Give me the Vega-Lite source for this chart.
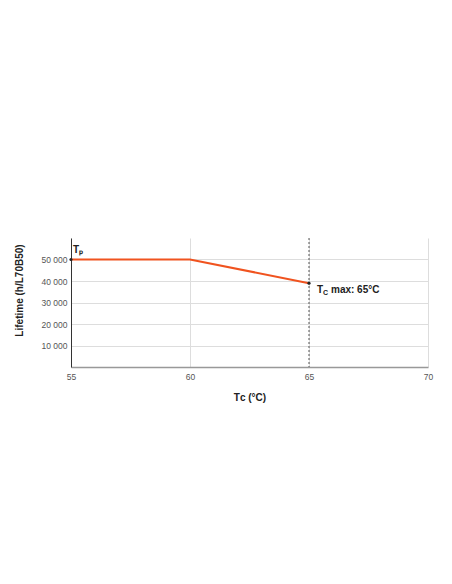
{
  "$schema": "https://vega.github.io/schema/vega-lite/v6.json",
  "width": 357,
  "height": 129,
  "autosize": {"type": "none"},
  "padding": {"left": 71, "top": 238, "right": 24, "bottom": 217},
  "background": "white",
  "config": {
    "view": {"stroke": null},
    "font": "Liberation Sans",
    "locale": {"number": {"decimal": ".", "thousands": " ", "grouping": [3], "currency": ["", ""]}},
    "axis": {"labelOverlap": false, "labelFlush": false, "labelSeparation": 0}
  },
  "datasets": {
    "curve": [
      {"tc": 55, "life": 50000},
      {"tc": 60, "life": 50000},
      {"tc": 65, "life": 39000}
    ],
    "dots": [
      {"tc": 55, "life": 50000},
      {"tc": 65, "life": 39000}
    ],
    "vline": [{"tc": 65}]
  },
  "layer": [
    {
      "data": {"name": "curve"},
      "mark": {"type": "line", "color": "#f0531f", "strokeWidth": 2},
      "encoding": {
        "x": {"field": "tc", "type": "quantitative", "scale": {"domain": [55, 70], "nice": false, "zero": false},
          "axis": {
            "values": [55, 60, 65, 70],
            "title": "Tᴄ (°C)",
            "titleFont": "Liberation Sans",
            "titleFontSize": 10,
            "titleFontWeight": "bold",
            "titleColor": "#222222",
            "titlePadding": 12,
            "labelColor": "#555555",
            "labelFontSize": 8.5,
            "labelPadding": 5,
            "ticks": false,
            "domainColor": "#999999",
            "domainWidth": 1.5,
            "gridColor": "#dddddd",
            "grid": true
          }
        },
        "y": {"field": "life", "type": "quantitative", "scale": {"domain": [0, 60000], "nice": false},
          "axis": {
            "tickCount": 6,
            "format": ",d",
            "labelExpr": "datum.value == 0 || datum.value >= 60000 ? '' : datum.label",
            "gridOpacity": {"condition": {"test": "datum.value == 0 || datum.value >= 60000", "value": 0}, "value": 1},
            "title": "Lifetime (h/L70B50)",
            "titleFont": "Liberation Sans",
            "titleFontSize": 10,
            "titleFontWeight": "bold",
            "titleColor": "#222222",
            "titleX": -47,
            "titleY": 52,
            "labelColor": "#555555",
            "labelFontSize": 8.5,
            "labelPadding": 4,
            "labelOverlap": false,
            "ticks": false,
            "domainColor": "#333333",
            "domainWidth": 1,
            "gridColor": "#dddddd",
            "grid": true
          }
        }
      }
    },
    {
      "data": {"name": "vline"},
      "mark": {"type": "rule", "stroke": "#555555", "strokeWidth": 1, "strokeDash": [2, 2]},
      "encoding": {
        "x": {"field": "tc", "type": "quantitative"}
      }
    },
    {
      "data": {"name": "dots"},
      "mark": {"type": "point", "filled": true, "color": "#222222", "size": 10, "opacity": 1},
      "encoding": {
        "x": {"field": "tc", "type": "quantitative"},
        "y": {"field": "life", "type": "quantitative"}
      }
    },
    {
      "data": {"values": [{"tc": 55, "life": 50000, "label": "Tₚ"}]},
      "mark": {"type": "text", "align": "left", "baseline": "alphabetic", "dx": 2, "dy": -7, "fontSize": 10, "fontWeight": "bold", "color": "#222222"},
      "encoding": {
        "x": {"field": "tc", "type": "quantitative"},
        "y": {"field": "life", "type": "quantitative"},
        "text": {"field": "label"}
      }
    },
    {
      "data": {"values": [{"tc": 65, "life": 39000, "label": "T"}]},
      "mark": {"type": "text", "align": "left", "baseline": "alphabetic", "dx": 8, "dy": 10, "fontSize": 10, "fontWeight": "bold", "color": "#222222"},
      "encoding": {
        "x": {"field": "tc", "type": "quantitative"},
        "y": {"field": "life", "type": "quantitative"},
        "text": {"field": "label"}
      }
    },
    {
      "data": {"values": [{"tc": 65, "life": 39000, "label": "C"}]},
      "mark": {"type": "text", "align": "left", "baseline": "alphabetic", "dx": 14, "dy": 12, "fontSize": 7, "fontWeight": "bold", "color": "#222222"},
      "encoding": {
        "x": {"field": "tc", "type": "quantitative"},
        "y": {"field": "life", "type": "quantitative"},
        "text": {"field": "label"}
      }
    },
    {
      "data": {"values": [{"tc": 65, "life": 39000, "label": "max: 65°C"}]},
      "mark": {"type": "text", "align": "left", "baseline": "alphabetic", "dx": 22, "dy": 10, "fontSize": 10, "fontWeight": "bold", "color": "#222222"},
      "encoding": {
        "x": {"field": "tc", "type": "quantitative"},
        "y": {"field": "life", "type": "quantitative"},
        "text": {"field": "label"}
      }
    }
  ]
}
